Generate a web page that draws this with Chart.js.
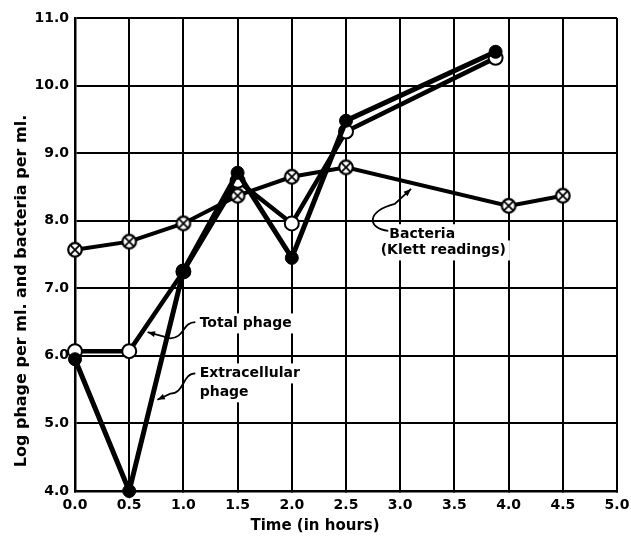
<!DOCTYPE html>
<html><head><meta charset="utf-8">
<script src="https://cdn.jsdelivr.net/npm/chart.js@4"></script>
<style>html,body{margin:0;padding:0;background:#fff}canvas{display:block}</style>
</head><body>
<canvas id="c" width="631" height="544"></canvas>
<script>
// ---- data ----
const bacteriaTimes = [0, 0.5, 1.0, 1.5, 2.0, 2.5, 4.0, 4.5];
const bacteriaLog   = [7.57, 7.69, 7.96, 8.37, 8.65, 8.79, 8.22, 8.37];
const totalTimes    = [0, 0.5, 1.0, 1.5, 2.0, 2.5, 3.88];
const totalLog      = [6.07, 6.07, 7.25, 8.59, 7.96, 9.32, 10.41];
const extraTimes    = [0, 0.5, 1.0, 1.5, 2.0, 2.5, 3.88];
const extraLog      = [5.95, 4.00, 7.26, 8.71, 7.45, 9.48, 10.50];
const xTickLabels   = ['0.0','0.5','1.0','1.5','2.0','2.5','3.0','3.5','4.0','4.5','5.0'];
const yTickLabels   = ['4.0','5.0','6.0','7.0','8.0','9.0','10.0','11.0'];
const xTitle = 'Time (in hours)';
const yTitle = 'Log phage per ml. and bacteria per ml.';

const FONT = '"DejaVu Sans", sans-serif';

function pts(xs, ys){ return xs.map((x,i)=>({x:x, y:ys[i]})); }

// crossed-circle marker
const cross = document.createElement('canvas');
cross.width = 18; cross.height = 18;
(function(){
  const g = cross.getContext('2d');
  g.fillStyle = '#fff'; g.strokeStyle = '#000'; g.lineWidth = 2.2;
  g.beginPath(); g.arc(9,9,6.8,0,Math.PI*2); g.fill(); g.stroke();
  const d = 4.6;
  g.lineWidth = 1.8;
  g.beginPath(); g.moveTo(9-d,9-d); g.lineTo(9+d,9+d); g.moveTo(9+d,9-d); g.lineTo(9-d,9+d); g.stroke();
})();

const annot = {
  id: 'annot',
  beforeDatasetsDraw(chart){
    const ctx = chart.ctx, xs = chart.scales.x, ys = chart.scales.y;
    const P = (x,y)=>[xs.getPixelForValue(x), ys.getPixelForValue(y)];
    ctx.save();
    ctx.font = 'bold 14px ' + FONT;
    ctx.fillStyle = '#fff';
    const boxes = [[1.15,6.48,'Total phage'],[1.15,5.74,'Extracellular'],[1.15,5.46,'phage'],
                   [2.90,7.80,'Bacteria'],[2.82,7.56,'(Klett readings)']];
    boxes.forEach(b=>{
      const p = P(b[0],b[1]); const w = ctx.measureText(b[2]).width;
      ctx.fillRect(p[0]-4, p[1]-10, w+8, 20);
    });
    ctx.restore();
  },
  afterDraw(chart){
    const ctx = chart.ctx, xs = chart.scales.x, ys = chart.scales.y;
    const P = (x,y)=>[xs.getPixelForValue(x), ys.getPixelForValue(y)];
    ctx.save();
    ctx.fillStyle = '#000'; ctx.strokeStyle = '#000';
    // axis titles
    ctx.font = 'bold 15px ' + FONT;
    ctx.textAlign = 'center'; ctx.textBaseline = 'middle';
    ctx.fillText(xTitle, 315, 526);
    ctx.save(); ctx.translate(22, 291); ctx.rotate(-Math.PI/2);
    ctx.font = 'bold 16px ' + FONT;
    ctx.fillText(yTitle, 0, 0); ctx.restore();

    // annotation labels
    ctx.font = 'bold 14px ' + FONT;
    ctx.textAlign = 'left';
    let p;
    p = P(1.15, 6.48); ctx.fillText('Total phage', p[0], p[1]);
    p = P(1.15, 5.74); ctx.fillText('Extracellular', p[0], p[1]);
    p = P(1.15, 5.46); ctx.fillText('phage', p[0], p[1]);
    p = P(2.90, 7.80); ctx.fillText('Bacteria', p[0], p[1]);
    p = P(2.82, 7.56); ctx.fillText('(Klett readings)', p[0], p[1]);

    function curve(a, c1, c2, b, tip){
      const A=P(...a), C1=P(...c1), C2=P(...c2), B=P(...b), T=P(...tip);
      ctx.lineWidth = 1.8;
      ctx.beginPath(); ctx.moveTo(A[0],A[1]);
      ctx.bezierCurveTo(C1[0],C1[1],C2[0],C2[1],B[0],B[1]);
      ctx.lineTo(T[0],T[1]); ctx.stroke();
      const ang = Math.atan2(T[1]-B[1], T[0]-B[0]);
      const L = 8, W = 0.38;
      ctx.beginPath(); ctx.moveTo(T[0],T[1]);
      ctx.lineTo(T[0]-L*Math.cos(ang-W), T[1]-L*Math.sin(ang-W));
      ctx.lineTo(T[0]-L*Math.cos(ang+W), T[1]-L*Math.sin(ang+W));
      ctx.closePath(); ctx.fill();
    }
    curve([1.11,6.50],[0.99,6.50],[1.01,6.26],[0.88,6.26],[0.67,6.35]);
    curve([1.11,5.74],[0.99,5.74],[1.01,5.44],[0.88,5.44],[0.76,5.35]);
    curve([2.89,7.85],[2.70,7.88],[2.68,8.14],[2.95,8.25],[3.10,8.47]);
    ctx.restore();
  }
};

new Chart(document.getElementById('c'), {
  type: 'scatter',
  data: {
    datasets: [
      { label:'Bacteria', data: pts(bacteriaTimes, bacteriaLog), showLine:true, clip:false,
        borderColor:'#000', borderWidth:4, pointStyle: cross, pointRadius:9, order:3 },
      { label:'Total phage', data: pts(totalTimes, totalLog), showLine:true, clip:false,
        borderColor:'#000', borderWidth:4.5, pointStyle:'circle', pointRadius:7,
        pointBackgroundColor:'#fff', pointBorderColor:'#000', pointBorderWidth:2, order:2 },
      { label:'Extracellular phage', data: pts(extraTimes, extraLog), showLine:true, clip:false,
        borderColor:'#000', borderWidth:5, pointStyle:'circle', pointRadius:6.5,
        pointBackgroundColor:'#000', pointBorderColor:'#000', pointBorderWidth:1, order:1 }
    ]
  },
  options: {
    responsive:false, animation:false, devicePixelRatio:1,
    layout:{ padding:{ top:18, right:14, left:0, bottom:0 } },
    plugins:{ legend:{display:false}, tooltip:{enabled:false} },
    scales:{
      x:{ type:'linear', min:0, max:5,
        afterBuildTicks(s){ s.ticks = xTickLabels.map(v=>({value:parseFloat(v)})); },
        afterFit(s){ s.height = 53; s.paddingRight = 0; s.paddingLeft = 0; },
        grid:{ color:'#000', lineWidth:2, tickLength:0 },
        border:{ color:'#000', width:2.5 },
        ticks:{ color:'#000', padding:6, maxRotation:0, autoSkip:false,
          font:{ family:FONT, size:14, weight:'bold' },
          callback:(v,i)=>xTickLabels[i] } },
      y:{ type:'linear', min:4, max:11,
        afterBuildTicks(s){ s.ticks = yTickLabels.map(v=>({value:parseFloat(v)})); },
        afterFit(s){ s.width = 75; s.paddingTop = 0; s.paddingBottom = 0; },
        grid:{ color:'#000', lineWidth:2, tickLength:0 },
        border:{ color:'#000', width:2.5 },
        ticks:{ color:'#000', padding:6, autoSkip:false,
          font:{ family:FONT, size:14, weight:'bold' },
          callback:(v,i)=>yTickLabels[i] } }
    }
  },
  plugins:[annot]
});
</script>
</body></html>
